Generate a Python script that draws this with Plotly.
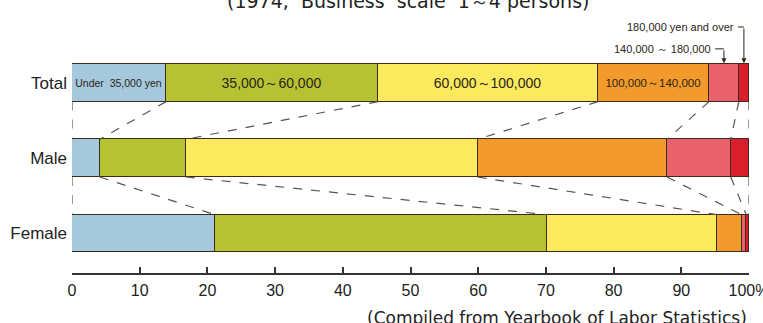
import numpy as np
import plotly.graph_objects as go

# Monthly wage bands (yen) and the share of workers in each, by group (%)
bands = ["Under  35,000 yen", "35,000～60,000", "60,000～100,000",
         "100,000～140,000", "140,000～180,000", "180,000 yen and over"]
groups = ["Total", "Male", "Female"]
total = [13.9, 31.3, 32.5, 16.4, 4.4, 1.5]
male = [4.1, 12.7, 43.1, 28.0, 9.4, 2.7]
female = [21.1, 49.0, 25.1, 3.7, 0.7, 0.4]
tick_vals = [0, 10, 20, 30, 40, 50, 60, 70, 80, 90, 100]
tick_text = ["0", "10", "20", "30", "40", "50", "60", "70", "80", "90", "100%"]

colors = ["#a6c8dc", "#b6c232", "#fbea5e", "#f39a2c", "#e9616a", "#d91f2b"]
label_sizes = [10.5, 14, 14, 11.5]
ink = "#2b2418"
font_main = "Liberation Sans, Arial, sans-serif"
font_wide = "DejaVu Sans, Verdana, sans-serif"

rows = [total, male, female]
ypos = [2, 1, 0]          # Total on top, Female at the bottom
bar_w = 0.5

fig = go.Figure()
for i, band in enumerate(bands):
    vals = [r[i] for r in rows]
    txt = [band if i < 4 else "", "", ""]
    fig.add_trace(go.Bar(
        orientation="h", x=vals, y=ypos, width=bar_w, name=band,
        marker=dict(color=colors[i], line=dict(color="#3a2c1c", width=1)),
        text=txt, textposition="inside", insidetextanchor="middle",
        textangle=0, cliponaxis=False,
        textfont=dict(size=label_sizes[i] if i < 4 else 10, color=ink,
                      family="Liberation Sans Narrow, Liberation Sans, Arial"),
        hoverinfo="skip", showlegend=False,
    ))

# Dashed connectors joining matching band boundaries of neighbouring bars
cums = [np.concatenate([[0], np.cumsum(r)]) for r in rows]
shapes = []
for k in range(len(rows) - 1):
    upper, lower = cums[k], cums[k + 1]
    y0 = ypos[k] - bar_w / 2
    y1 = ypos[k + 1] + bar_w / 2
    for a, b in zip(upper, lower):
        shapes.append(dict(type="line", xref="x", yref="y",
                           x0=min(a, 100), y0=y0, x1=min(b, 100), y1=y1,
                           line=dict(color="#555555", width=1.2, dash="dash")))

# Leader arrows naming the two narrow top bands on the Total bar
annotations = []
tc = cums[0]
bar_top = ypos[0] + bar_w / 2
for i, (y_lab, gap) in zip([4, 5], [(2.45, 1.3), (2.74, 0.9)]):
    xc = (tc[i] + tc[i + 1]) / 2
    shapes.append(dict(type="line", xref="x", yref="y", x0=xc - gap, x1=xc,
                       y0=y_lab, y1=y_lab, line=dict(color=ink, width=1)))
    annotations.append(dict(x=xc, y=bar_top + 0.01, xref="x", yref="y",
                            ax=xc, ay=y_lab, axref="x", ayref="y", text="",
                            showarrow=True, arrowhead=2, arrowsize=1,
                            arrowwidth=1, arrowcolor=ink))
    annotations.append(dict(x=xc - gap, y=y_lab, xref="x", yref="y",
                            text=bands[i].replace("～", " ～ ") if i == 4 else bands[i],
                            showarrow=False, xanchor="right", yanchor="middle",
                            xshift=-2,
                            font=dict(size=11, color=ink, family=font_main)))

annotations.append(dict(x=0.497, y=1.076, xref="paper", yref="paper",
                        text="(1974,  Business  scale  1～4 persons)",
                        showarrow=False, xanchor="center", yanchor="middle",
                        font=dict(size=19, color="#222", family=font_wide)))
annotations.append(dict(x=1.0, y=-0.176, xref="paper", yref="paper",
                        text="(Compiled from Yearbook of Labor Statistics)",
                        showarrow=False, xanchor="right", yanchor="middle",
                        font=dict(size=17, color="#222", family=font_wide)))

fig.update_layout(
    width=763, height=323,
    margin=dict(l=72, r=14, t=20, b=50, autoexpand=False),
    barmode="stack", bargap=0,
    plot_bgcolor="white", paper_bgcolor="white",
    shapes=shapes, annotations=annotations,
    xaxis=dict(range=[0, 100], tickvals=tick_vals, ticktext=tick_text,
               ticks="inside", ticklen=6, tickwidth=1.5, tickcolor="#333",
               showline=True, linewidth=1.5, linecolor="#333",
               showgrid=False, zeroline=False, ticklabelstandoff=2,
               ticklabeloverflow="allow", automargin=False,
               tickfont=dict(size=16, color="#222", family=font_main)),
    yaxis=dict(range=[-0.524, 2.833], tickvals=ypos, ticktext=groups,
               showgrid=False, zeroline=False, showline=False, ticks="",
               ticklabelstandoff=4, automargin=False,
               tickfont=dict(size=17, color="#222", family=font_main)),
)

fig.write_html("out.html")
